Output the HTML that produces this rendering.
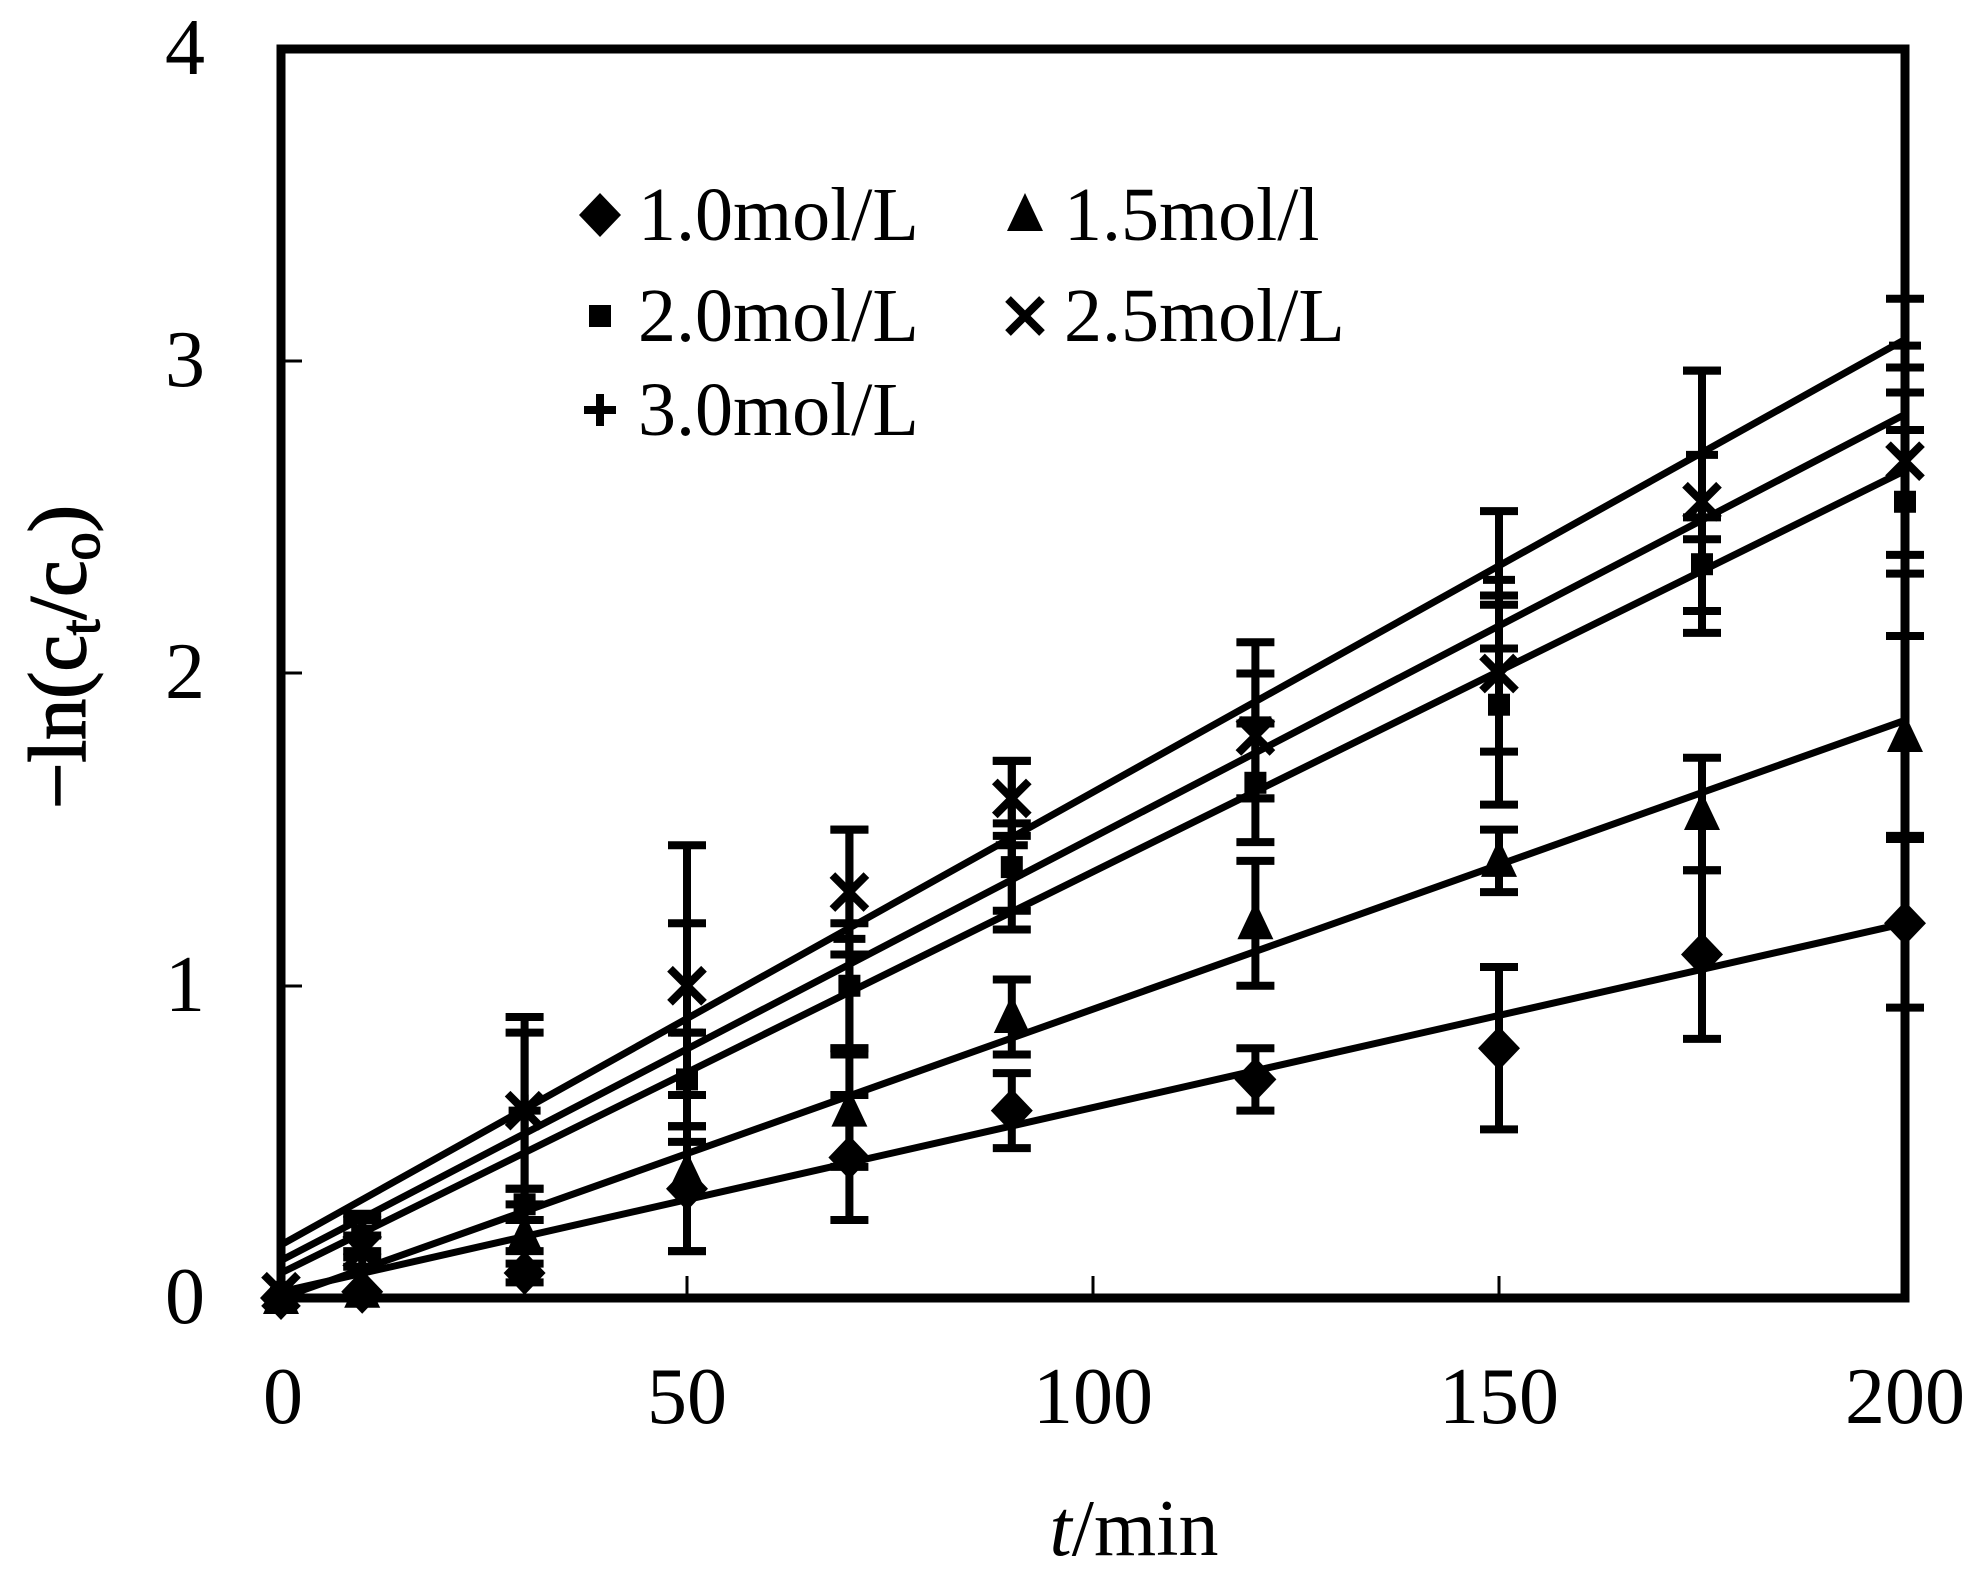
<!DOCTYPE html>
<html><head><meta charset="utf-8"><style>
html,body{margin:0;padding:0;background:#fff}
svg{display:block}
text{font-family:"Liberation Serif",serif;fill:#000}
</style></head><body>
<svg id="s" width="1976" height="1575" viewBox="0 0 1976 1575" xmlns="http://www.w3.org/2000/svg">
<rect width="1976" height="1575" fill="#fff"/>
<g id="plot"></g>
<rect x="281" y="49" width="1624" height="1249" fill="none" stroke="#000" stroke-width="9"/>
<g stroke="#000" stroke-width="3">
<line x1="687" y1="1298" x2="687" y2="1276"/><line x1="1093" y1="1298" x2="1093" y2="1276"/><line x1="1499" y1="1298" x2="1499" y2="1276"/>
<line x1="281" y1="361" x2="302" y2="361"/><line x1="281" y1="673" x2="302" y2="673"/><line x1="281" y1="986" x2="302" y2="986"/>
</g>
<g font-size="80" text-anchor="middle">
<text x="283" y="1423">0</text><text x="687" y="1423">50</text><text x="1093" y="1423">100</text><text x="1499" y="1423">150</text><text x="1905" y="1423">200</text>
</g>
<g font-size="80" text-anchor="end">
<text x="205" y="74">4</text><text x="205" y="386">3</text><text x="205" y="698">2</text><text x="205" y="1011">1</text><text x="205" y="1323">0</text>
</g>
<text x="1134" y="1555" font-size="80" text-anchor="middle"><tspan font-style="italic">t</tspan>/min</text>
<text transform="translate(85,657) rotate(-90)" font-size="82" text-anchor="middle" stroke="#000" stroke-width="1.5">−ln(c<tspan font-size="56" dy="14">t</tspan><tspan dy="-14">/c</tspan><tspan font-size="56" dy="14">o</tspan><tspan dy="-14">)</tspan></text>
<g font-size="76">
<text x="638" y="240">1.0mol/L</text><text x="1064" y="240">1.5mol/l</text>
<text x="638" y="341">2.0mol/L</text><text x="1064" y="341">2.5mol/L</text>
<text x="638" y="435">3.0mol/L</text>
</g>
<g id="leg"></g>
</svg>
<script>
var NS="http://www.w3.org/2000/svg";
function X(t){return 281+t*8.12}
function Y(v){return 1298-v*312.25}
var g=document.getElementById('plot'),lg=document.getElementById('leg');
function el(p,n,a){var e=document.createElementNS(NS,n);for(var k in a)e.setAttribute(k,a[k]);p.appendChild(e);return e}
function marker(p,type,cx,cy){
 if(type==0)el(p,'polygon',{points:(cx)+','+(cy-22)+' '+(cx+21)+','+cy+' '+cx+','+(cy+22)+' '+(cx-21)+','+cy,fill:'#000'});
 if(type==1)el(p,'polygon',{points:cx+','+(cy-22)+' '+(cx+18)+','+(cy+16)+' '+(cx-18)+','+(cy+16),fill:'#000'});
 if(type==2)el(p,'rect',{x:cx-11,y:cy-11,width:22,height:22,fill:'#000'});
 if(type==3){el(p,'path',{d:'M'+(cx-17)+' '+(cy-17)+'L'+(cx+17)+' '+(cy+17)+'M'+(cx+17)+' '+(cy-17)+'L'+(cx-17)+' '+(cy+17),stroke:'#000','stroke-width':8});}
 if(type==4){el(p,'path',{d:'M'+(cx-16)+' '+cy+'L'+(cx+16)+' '+cy+'M'+cx+' '+(cy-16)+'L'+cx+' '+(cy+16),stroke:'#000','stroke-width':8});}
}
var T=[0,10,30,50,70,90,120,150,175,200];
var S=[
 {l:[0.02,1.2],y:[0,0.02,0.08,0.35,0.45,0.6,0.7,0.8,1.1,1.2],e:[0,0,0.03,0.2,0.2,0.12,0.1,0.26,0.27,0.27]},
 {l:[0,1.85],y:[0,0.02,0.2,0.4,0.6,0.9,1.2,1.4,1.55,1.8],e:[0,0,0.05,0.25,0.18,0.12,0.2,0.1,0.18,0.32]},
 {l:[0.08,2.65],y:[0,0.2,0.3,0.7,1.0,1.38,1.65,1.9,2.35,2.55],e:[0,0.05,0.05,0.15,0.2,0.14,0.19,0.32,0.15,0.23]},
 {l:[0.12,2.83],y:[0.02,0.15,0.6,1.0,1.3,1.6,1.8,2.0,2.55,2.68],e:[0,0.05,0.25,0.45,0.2,0.12,0.2,0.25,0.42,0.3]},
 {l:[0.17,3.07],y:[0,0.2,0.6,0.85,1.15,1.45,1.85,2.3,2.7,3.05],e:[0,0.07,0.3,0.35,0.35,0.27,0.25,0.22,0.27,0.15]}
];
S.forEach(function(s,i){
 el(g,'line',{x1:X(0),y1:Y(s.l[0]),x2:X(200),y2:Y(s.l[1]),stroke:'#000','stroke-width':7});
 T.forEach(function(t,j){
  var e=s.e[j],cx=X(t);
  if(e>0){var a=Y(s.y[j]+e),b=Y(s.y[j]-e);
   el(g,'path',{d:'M'+cx+' '+a+'L'+cx+' '+b+'M'+(cx-19)+' '+a+'L'+(cx+19)+' '+a+'M'+(cx-19)+' '+b+'L'+(cx+19)+' '+b,stroke:'#000','stroke-width':8,fill:'none'});}
  marker(g,i,cx,Y(s.y[j]));
 });
});
marker(lg,0,600,215);marker(lg,1,1025,215);marker(lg,2,600,316);marker(lg,3,1025,316);marker(lg,4,600,410);
</script>
</body></html>
